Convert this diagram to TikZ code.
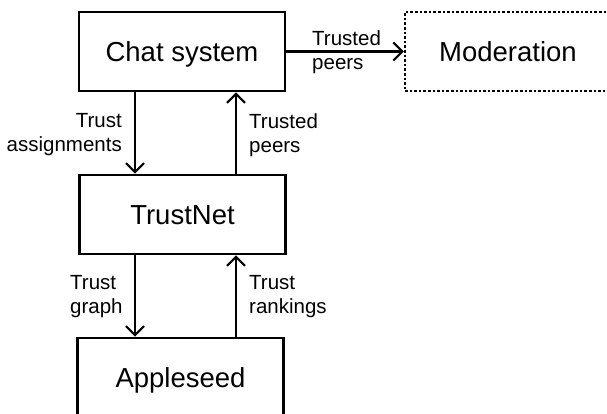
\documentclass[tikz,border=0pt]{standalone}
\usepackage{fontspec}
\setmainfont{Liberation Sans}
\usetikzlibrary{arrows.meta}
\begin{document}
\begin{tikzpicture}[x=1pt,y=-1pt,
  block/.style={draw, line width=2.6pt, minimum width=206pt, minimum height=79pt,
    inner sep=0pt, text height=19.7pt, text depth=0pt,
    font=\fontsize{27.5}{32}\selectfont},
  extblock/.style={block, dotted, line width=2.2pt},
  flow/.style={line width=2.2pt, -{Straight Barb[length=9pt,width=18pt,line width=2.2pt]}},
  lbl/.style={inner sep=0pt, font=\fontsize{20.5}{24}\selectfont}]
  \useasboundingbox (0,0) rectangle (607,414);
  \begin{scope}
    \clip (0,0) rectangle (607,414);
    \node[block] (chat) at (182,51.5) {Chat system};
    \node[extblock] (moder) at (508,51.5) {Moderation};
    \node[block] (trust) at (182.5,214.5) {TrustNet};
    \node[block] (apple) at (180.5,377.5) {Appleseed};
  \end{scope}
  \coordinate (down) at (135,0);
  \coordinate (up) at (236,0);
  % chat system <-> trustnet
  \draw[flow] (chat.south -| down) -- (trust.north -| down);
  \draw[flow] (trust.north -| up) -- (chat.south -| up);
  % trustnet <-> appleseed
  \draw[flow] (trust.south -| down) -- (apple.north -| down);
  \draw[flow] (apple.north -| up) -- (trust.south -| up);
  % chat system -> moderation
  \draw[flow] (chat.east) -- (moder.west);
  % labels
  \node[lbl, align=right, anchor=east] (l1) at (122,135) {Trust\\assignments};
  \node[lbl, align=left, anchor=west] (l2) at (249,135) {Trusted\\peers};
  \node[lbl, align=left, anchor=west] (l3) at (70,296.5) {Trust\\graph};
  \node[lbl, align=left, anchor=west] (l4) at (249,296.5) {Trust\\rankings};
  \node[lbl, align=left, anchor=west] (l5) at (312,52.5) {Trusted\\peers};
\end{tikzpicture}
\end{document}
